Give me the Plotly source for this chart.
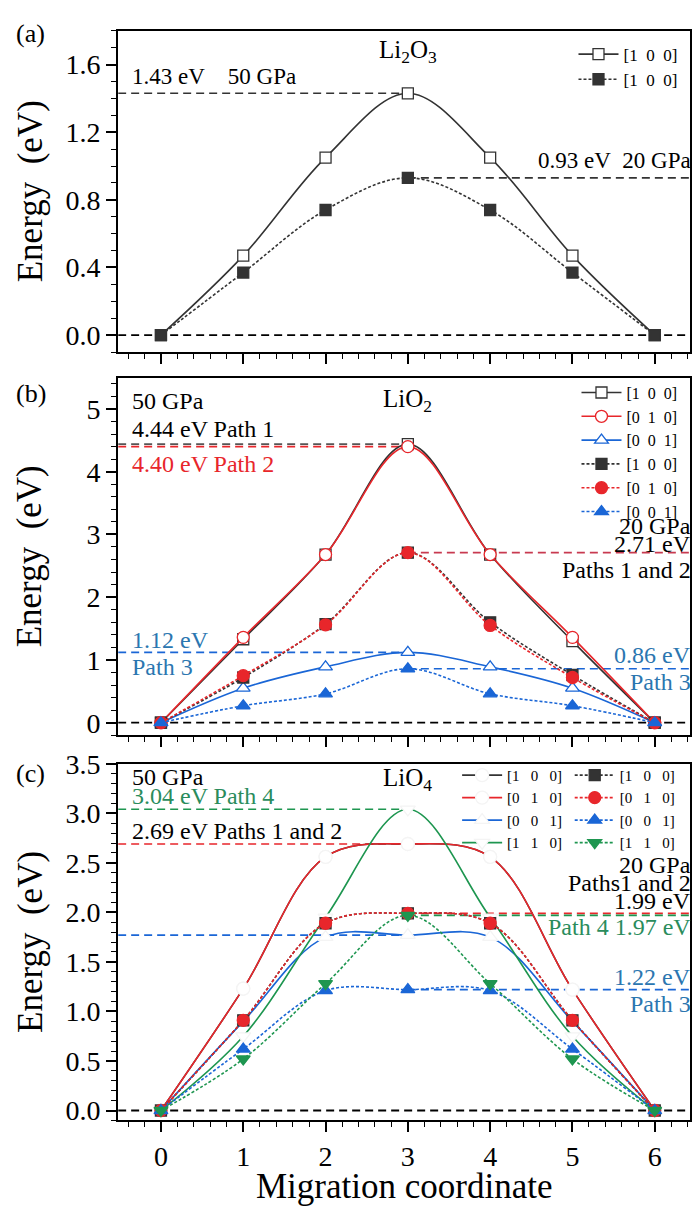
import plotly.graph_objects as go

# ---------------- data ----------------
coord = [0, 1, 2, 3, 4, 5, 6]
tick_vals_x = [0, 1, 2, 3, 4, 5, 6]

# (a) Li2O3
a_50_100 = [0, 0.47, 1.05, 1.43, 1.05, 0.47, 0]
a_20_100 = [0, 0.37, 0.74, 0.93, 0.74, 0.37, 0]
a_barriers = {"50": 1.43, "20": 0.93}

# (b) LiO2
b_50_100 = [0, 1.33, 2.68, 4.44, 2.68, 1.30, 0]
b_50_010 = [0, 1.36, 2.68, 4.40, 2.68, 1.36, 0]
b_50_001 = [0, 0.55, 0.89, 1.12, 0.89, 0.55, 0]
b_20_100 = [0, 0.72, 1.57, 2.71, 1.60, 0.76, 0]
b_20_010 = [0, 0.75, 1.56, 2.71, 1.55, 0.72, 0]
b_20_001 = [0, 0.27, 0.46, 0.86, 0.46, 0.27, 0]
b_bar_p1_50 = 4.44
b_bar_p2_50 = 4.40
b_bar_p3_50 = 1.12
b_bar_p12_20 = 2.71
b_bar_p3_20 = 0.86

# (c) LiO4
c_50_100 = [0, 1.23, 2.56, 2.69, 2.56, 1.22, 0]
c_50_010 = [0, 1.23, 2.56, 2.69, 2.56, 1.22, 0]
c_50_001 = [0, 0.90, 1.75, 1.77, 1.75, 0.90, 0]
c_50_110 = [0, 0.75, 1.95, 3.04, 1.95, 0.75, 0]
c_20_100 = [0, 0.91, 1.89, 1.99, 1.89, 0.91, 0]
c_20_010 = [0, 0.91, 1.89, 1.99, 1.89, 0.91, 0]
c_20_001 = [0, 0.62, 1.21, 1.22, 1.21, 0.62, 0]
c_20_110 = [0, 0.52, 1.28, 1.97, 1.28, 0.52, 0]
c_bar_p4_50 = 3.04
c_bar_p12_50 = 2.69
c_bar_p3_50 = 1.77
c_bar_p12_20 = 1.99
c_bar_p4_20 = 1.97
c_bar_p3_20 = 1.22

NB = "\u00a0"


def miller(h, k, l, gap):
    s = NB * gap
    return f"[{h}{s}{k}{s}{l}]"


# ---------------- style ----------------
FONT = "Liberation Serif"
DARK = "#333333"
RED = "#e8262b"
BLUE = "#1a66d6"
GREEN = "#1e9650"
TBLUE = "#2b76b0"
TGREEN = "#2a8c5c"
CRIMSON = "#c83a50"

XR = [-0.52, 6.43]
XDOM = [0.170, 0.993]
DOM_A = [1 - 343 / 1207, 1 - 16 / 1207]
DOM_B = [1 - 733 / 1207, 1 - 369 / 1207]
DOM_C = [1 - 1125 / 1207, 1 - 762 / 1207]

fig = go.Figure()

SOLID_W = 1.6
SHORT = "3px,2px"


def add(x, y, ax, color, symbol, fill, dash, legend, name="", lw=SOLID_W, mline=None, msize=11):
    fig.add_trace(go.Scatter(
        x=x, y=y, xaxis=ax[0], yaxis=ax[1], mode="lines+markers", name=name,
        line=dict(color=color, width=lw, dash=dash, shape="spline", smoothing=1.0),
        marker=dict(symbol=symbol, size=msize, color=fill,
                    line=dict(color=mline if mline else color, width=1.3)),
        legend=legend, showlegend=True,
    ))


# panel a
A = ("x", "y")
add(coord, a_50_100, A, DARK, "square", "white", "solid", "legend", miller(1, 0, 0, 2))
add(coord, a_20_100, A, DARK, "square", DARK, SHORT, "legend", miller(1, 0, 0, 2))

# panel b
B = ("x2", "y2")
add(coord, b_50_100, B, DARK, "square", "white", "solid", "legend2", miller(1, 0, 0, 2))
add(coord, b_50_010, B, RED, "circle", "white", "solid", "legend2", miller(0, 1, 0, 2), msize=12)
add(coord, b_50_001, B, BLUE, "triangle-up", "white", "solid", "legend2", miller(0, 0, 1, 2), msize=12)
add(coord, b_20_100, B, DARK, "square", DARK, SHORT, "legend2", miller(1, 0, 0, 2))
add(coord, b_20_010, B, RED, "circle", RED, SHORT, "legend2", miller(0, 1, 0, 2), msize=12)
add(coord, b_20_001, B, BLUE, "triangle-up", BLUE, SHORT, "legend2", miller(0, 0, 1, 2), msize=12)

# panel c
C = ("x3", "y3")
WM = "#f4f4f4"
add(coord, c_50_100, C, DARK, "circle", "white", "solid", "legend3", miller(1, 0, 0, 3), mline=WM, msize=13)
add(coord, c_50_010, C, RED, "circle", "white", "solid", "legend3", miller(0, 1, 0, 3), mline=WM, msize=13)
add(coord, c_50_001, C, BLUE, "triangle-up", "white", "solid", "legend3", miller(0, 0, 1, 3), mline=WM, msize=13)
add(coord, c_50_110, C, GREEN, "triangle-down", "white", "solid", "legend3", miller(1, 1, 0, 3), mline=WM, msize=13)
add(coord, c_20_100, C, DARK, "square", DARK, SHORT, "legend4", miller(1, 0, 0, 3))
add(coord, c_20_010, C, RED, "circle", RED, SHORT, "legend4", miller(0, 1, 0, 3), msize=12)
add(coord, c_20_001, C, BLUE, "triangle-up", BLUE, SHORT, "legend4", miller(0, 0, 1, 3), msize=12)
add(coord, c_20_110, C, GREEN, "triangle-down", GREEN, SHORT, "legend4", miller(1, 1, 0, 3), msize=12)

# ---------------- reference dashed lines ----------------
shapes = []


def hline(xref, yref, y, x0, x1, color, w=1.6, dash="8px,5px"):
    shapes.append(dict(type="line", xref=xref, yref=yref, x0=x0, x1=x1, y0=y, y1=y,
                       line=dict(color=color, width=w, dash=dash), layer="below"))


for xr, yr in [("x", "y"), ("x2", "y2"), ("x3", "y3")]:
    hline(xr, yr, 0, XR[0], XR[1], "black", 1.8)

hline("x", "y", a_barriers["50"], XR[0], 3, DARK)
hline("x", "y", a_barriers["20"], 3, XR[1], DARK)

hline("x2", "y2", b_bar_p1_50, XR[0], 3, "#555555")
hline("x2", "y2", b_bar_p2_50, XR[0], 3, RED)
hline("x2", "y2", b_bar_p12_20, 3, XR[1], CRIMSON)
hline("x2", "y2", b_bar_p3_50, XR[0], 3, BLUE)
hline("x2", "y2", b_bar_p3_20, 3, XR[1], BLUE)

hline("x3", "y3", c_bar_p4_50, XR[0], 3, GREEN)
hline("x3", "y3", c_bar_p12_50, XR[0], 3, RED)
hline("x3", "y3", c_bar_p3_50, XR[0], 3, BLUE)
hline("x3", "y3", c_bar_p12_20, 3, XR[1], RED)
hline("x3", "y3", c_bar_p4_20, 3, XR[1], GREEN)
hline("x3", "y3", c_bar_p3_20, 3, XR[1], BLUE)

# ---------------- annotations ----------------
ann = []
AF = 24


def txt(xref, yref, x, y, text, color="black", xanchor="left", size=AF, yanchor="middle"):
    ann.append(dict(xref=xref, yref=yref, x=x, y=y, text=text, showarrow=False,
                    xanchor=xanchor, yanchor=yanchor,
                    font=dict(family=FONT, size=size, color=color)))


RX = 0.997  # paper right
XL = -0.38
# a
txt("x", "y", 3, 1.68, "Li<sub>2</sub>O<sub>3</sub>", size=25, xanchor="center")
txt("x", "y", XL, 1.53, f"1.43 eV{NB * 4}50 GPa", size=23)
txt("paper", "y", RX, 1.03, f"0.93 eV{NB}{NB}20 GPa", xanchor="right", size=23)
# b
txt("x2", "y2", XL, 5.12, "50 GPa")
txt("x2", "y2", 3, 5.14, "LiO<sub>2</sub>", size=25, xanchor="center")
txt("x2", "y2", XL, 4.68, "4.44 eV Path 1")
txt("x2", "y2", XL, 4.12, "4.40 eV Path 2", color=RED)
txt("paper", "y2", RX, 3.13, "20 GPa", xanchor="right")
txt("paper", "y2", RX, 2.85, "2.71 eV", xanchor="right")
txt("paper", "y2", RX, 2.43, "Paths 1 and 2", xanchor="right")
txt("x2", "y2", XL, 1.32, "1.12 eV", color=TBLUE)
txt("x2", "y2", XL, 0.88, "Path 3", color=TBLUE)
txt("paper", "y2", RX, 1.08, "0.86 eV", color=TBLUE, xanchor="right")
txt("paper", "y2", RX, 0.65, "Path 3", color=TBLUE, xanchor="right")
# c
txt("x3", "y3", XL, 3.37, "50 GPa")
txt("x3", "y3", 3, 3.34, "LiO<sub>4</sub>", size=25, xanchor="center")
txt("x3", "y3", XL, 3.17, "3.04 eV Path 4", color=TGREEN)
txt("x3", "y3", XL, 2.82, "2.69 eV Paths 1 and 2")
txt("x3", "y3", -0.53, 1.90, "1.77 eV Path 3", color=TBLUE)
txt("paper", "y3", RX, 2.48, "20 GPa", xanchor="right")
txt("paper", "y3", RX, 2.30, "Paths1 and 2", xanchor="right")
txt("paper", "y3", RX, 2.11, "1.99 eV", xanchor="right")
txt("paper", "y3", RX, 1.85, "Path 4 1.97 eV", color=TGREEN, xanchor="right")
txt("paper", "y3", RX, 1.35, "1.22 eV", color=TBLUE, xanchor="right")
txt("paper", "y3", RX, 1.08, "Path 3", color=TBLUE, xanchor="right")

# panel labels
for lab, ypix in [("(a)", 19), ("(b)", 385), ("(c)", 772)]:
    ann.append(dict(xref="paper", yref="paper", x=0.02, y=1 - ypix / 1207, text=lab,
                    showarrow=False, xanchor="left", yanchor="middle",
                    font=dict(family=FONT, size=26, color="black")))

# y titles
for dom in [DOM_A, DOM_B, DOM_C]:
    ann.append(dict(xref="paper", yref="paper", x=0.043, y=(dom[0] + dom[1]) / 2,
                    text=f"Energy{NB}{NB}(eV)", textangle=-90, showarrow=False,
                    xanchor="center", yanchor="middle",
                    font=dict(family=FONT, size=35, color="black")))

# ---------------- axes ----------------
axis_common = dict(showline=True, linecolor="black", linewidth=2, mirror=True,
                   ticks="outside", ticklen=10, tickwidth=1.5, tickcolor="black",
                   showgrid=False, zeroline=False,
                   tickfont=dict(family=FONT, size=28, color="black"))


def xaxis(anchor, labels):
    d = dict(axis_common)
    d.update(domain=XDOM, range=XR, anchor=anchor, tickmode="array", tickvals=tick_vals_x,
             showticklabels=labels,
             minor=dict(dtick=0.2, ticks="outside", ticklen=5, tickwidth=1.2, tickcolor="black"))
    return d


def yaxis(anchor, dom, rng, dtick, mdt, fmt):
    d = dict(axis_common)
    d.update(domain=dom, range=rng, anchor=anchor, dtick=dtick, tick0=0, tickformat=fmt,
             minor=dict(dtick=mdt, ticks="outside", ticklen=5, tickwidth=1.2, tickcolor="black"))
    return d


def legend_cfg(x, ypix, size):
    return dict(bgcolor="rgba(0,0,0,0)", borderwidth=0, tracegroupgap=0,
                font=dict(family=FONT, size=size, color="black"),
                xanchor="right", yanchor="top", itemwidth=40,
                x=x, y=1 - ypix / 1207)


fig.update_layout(
    width=695, height=1207,
    margin=dict(l=0, r=0, t=0, b=0),
    paper_bgcolor="white", plot_bgcolor="white",
    font=dict(family=FONT),
    xaxis=xaxis("y", False),
    xaxis2=xaxis("y2", False),
    xaxis3=xaxis("y3", True),
    yaxis=yaxis("x", DOM_A, [-0.1, 1.8], 0.4, 0.1, ".1f"),
    yaxis2=yaxis("x2", DOM_B, [-0.2, 5.5], 1, 0.2, "d"),
    yaxis3=yaxis("x3", DOM_C, [-0.1, 3.5], 0.5, 0.1, ".1f"),
    shapes=shapes,
    annotations=ann,
    legend=legend_cfg(0.982, 22, 17),
    legend2=legend_cfg(0.982, 367, 16),
    legend3=legend_cfg(0.816, 757, 15),
    legend4=legend_cfg(0.978, 757, 15),
)

fig.add_annotation(xref="paper", yref="paper", x=(XDOM[0] + XDOM[1]) / 2, y=1 - 1192 / 1207,
                   text="Migration coordinate", showarrow=False, xanchor="center",
                   yanchor="middle", font=dict(family=FONT, size=35, color="black"))

fig.write_html("out.html")
